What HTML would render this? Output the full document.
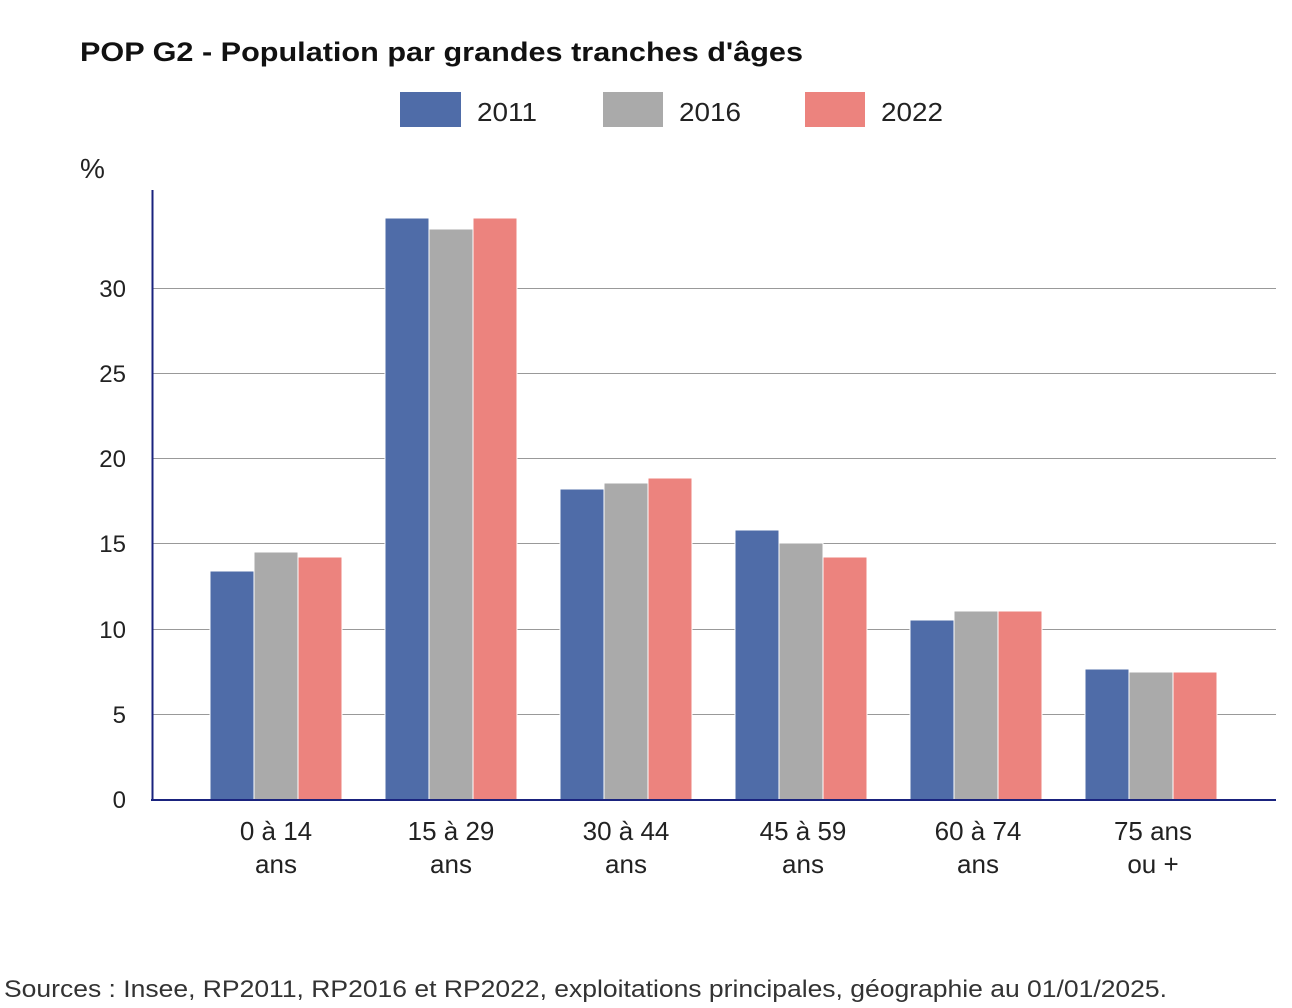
<!DOCTYPE html>
<html><head><meta charset="utf-8"><style>
html,body{margin:0;padding:0;background:#fff;}
svg{display:block;font-family:"Liberation Sans",sans-serif;}
</style></head><body>
<svg width="1292" height="1008" viewBox="0 0 1292 1008" xmlns="http://www.w3.org/2000/svg">
<rect width="1292" height="1008" fill="#fff"/>
<text x="80" y="61" font-size="27" font-weight="bold" fill="#111" textLength="723" lengthAdjust="spacingAndGlyphs">POP G2 - Population par grandes tranches d'âges</text>
<rect x="400" y="92" width="61" height="35" fill="#4f6ca8"/>
<text x="477" y="121" font-size="26" fill="#222" textLength="60" lengthAdjust="spacingAndGlyphs">2011</text>
<rect x="603" y="92" width="60" height="35" fill="#aaaaaa"/>
<text x="679" y="121" font-size="26" fill="#222" textLength="62" lengthAdjust="spacingAndGlyphs">2016</text>
<rect x="805" y="92" width="60" height="35" fill="#ec837e"/>
<text x="881" y="121" font-size="26" fill="#222" textLength="62" lengthAdjust="spacingAndGlyphs">2022</text>
<text x="80" y="178" font-size="28" fill="#222">%</text>
<g stroke="#999" stroke-width="1">
<line x1="152" y1="288.5" x2="1276" y2="288.5"/>
<line x1="152" y1="373.5" x2="1276" y2="373.5"/>
<line x1="152" y1="458.5" x2="1276" y2="458.5"/>
<line x1="152" y1="543.5" x2="1276" y2="543.5"/>
<line x1="152" y1="629.5" x2="1276" y2="629.5"/>
<line x1="152" y1="714.5" x2="1276" y2="714.5"/>
</g>
<g font-size="24" fill="#222" text-anchor="end">
<text x="126" y="297">30</text>
<text x="126" y="382">25</text>
<text x="126" y="467">20</text>
<text x="126" y="552">15</text>
<text x="126" y="638">10</text>
<text x="126" y="723">5</text>
<text x="126" y="808">0</text>
</g>
<g stroke="#fff" stroke-width="1">
<rect x="210" y="571" width="44" height="229" fill="#4f6ca8"/>
<rect x="254" y="552" width="44" height="248" fill="#aaaaaa"/>
<rect x="298" y="557" width="44" height="243" fill="#ec837e"/>
<rect x="385" y="218" width="44" height="582" fill="#4f6ca8"/>
<rect x="429" y="229" width="44" height="571" fill="#aaaaaa"/>
<rect x="473" y="218" width="44" height="582" fill="#ec837e"/>
<rect x="560" y="489" width="44" height="311" fill="#4f6ca8"/>
<rect x="604" y="483" width="44" height="317" fill="#aaaaaa"/>
<rect x="648" y="478" width="44" height="322" fill="#ec837e"/>
<rect x="735" y="530" width="44" height="270" fill="#4f6ca8"/>
<rect x="779" y="543" width="44" height="257" fill="#aaaaaa"/>
<rect x="823" y="557" width="44" height="243" fill="#ec837e"/>
<rect x="910" y="620" width="44" height="180" fill="#4f6ca8"/>
<rect x="954" y="611" width="44" height="189" fill="#aaaaaa"/>
<rect x="998" y="611" width="44" height="189" fill="#ec837e"/>
<rect x="1085" y="669" width="44" height="131" fill="#4f6ca8"/>
<rect x="1129" y="672" width="44" height="128" fill="#aaaaaa"/>
<rect x="1173" y="672" width="44" height="128" fill="#ec837e"/>
</g>
<line x1="152.5" y1="190" x2="152.5" y2="801" stroke="#1a237e" stroke-width="2"/>
<line x1="151" y1="800" x2="1276" y2="800" stroke="#1a237e" stroke-width="2"/>
<g font-size="26" fill="#222" text-anchor="middle">
<text x="276" y="840">0 à 14</text><text x="276" y="873">ans</text>
<text x="451" y="840">15 à 29</text><text x="451" y="873">ans</text>
<text x="626" y="840">30 à 44</text><text x="626" y="873">ans</text>
<text x="803" y="840">45 à 59</text><text x="803" y="873">ans</text>
<text x="978" y="840">60 à 74</text><text x="978" y="873">ans</text>
<text x="1153" y="840">75 ans</text><text x="1153" y="873">ou +</text>
</g>
<text x="4" y="997" font-size="24" fill="#333" textLength="1163" lengthAdjust="spacingAndGlyphs">Sources : Insee, RP2011, RP2016 et RP2022, exploitations principales, géographie au 01/01/2025.</text>
</svg>
</body></html>
